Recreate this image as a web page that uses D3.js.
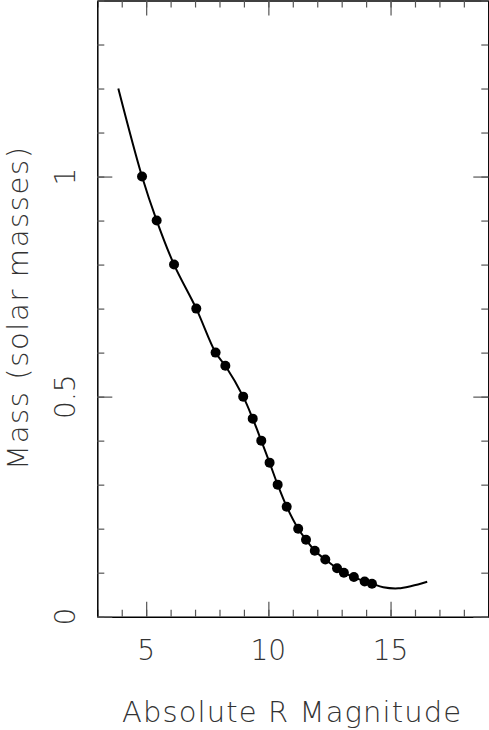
<!DOCTYPE html>
<html>
<head>
<meta charset="utf-8">
<script src="https://cdn.jsdelivr.net/npm/d3@7/dist/d3.min.js"></script>
<style>
    body { margin: 0; background: #fff; }
    svg { display: block; }
    .lbl { font-family: "DejaVu Sans", sans-serif; font-weight: 200; fill: #333; }
    .tick line { stroke: #555; stroke-width: 1.2; }
    .domain { stroke: #000; stroke-width: 1.5; }
</style>
</head>
<body>
<svg width="489" height="730"></svg>
<script>
    // measured points (absolute R magnitude, mass in solar masses)
    var magR = [4.83, 5.43, 6.14, 7.05, 7.84, 8.24, 8.97, 9.36, 9.71, 10.05, 10.38,
                10.75, 11.22, 11.54, 11.90, 12.33, 12.81, 13.09, 13.50, 13.94, 14.24];
    var mass = [1.0, 0.9, 0.8, 0.7, 0.6, 0.57, 0.5, 0.45, 0.4, 0.35, 0.3,
                0.25, 0.2, 0.175, 0.15, 0.13, 0.11, 0.1, 0.09, 0.08, 0.075];

    var fitX = [3.86, 4.83, 5.43, 6.14, 7.05, 7.84, 8.24, 8.97, 9.36, 9.71, 10.05, 10.38,
                10.75, 11.22, 11.54, 11.90, 12.33, 12.81, 13.09, 13.50, 13.94, 14.24,
                14.70, 15.32, 15.86, 16.50];
    var fitY = [1.2, 1.0, 0.9, 0.8, 0.7, 0.6, 0.57, 0.5, 0.45, 0.4, 0.35, 0.3,
                0.25, 0.2, 0.175, 0.15, 0.13, 0.11, 0.1, 0.09, 0.08, 0.075,
                0.067, 0.0645, 0.0698, 0.0795];

    var xMinor = d3.range(3, 20, 1);
    var xMajor = [5, 10, 15];
    var yMinor = d3.range(0, 1.41, 0.1);
    var yMajor = [0, 0.5, 1];
    var yLabels = ["0", "0.5", "1"];

    var svg = d3.select("svg"),
        margin = {top: 0.5, right: 0.7, bottom: 113.3, left: 97.3},
        width = +svg.attr("width") - margin.left - margin.right,
        height = +svg.attr("height") - margin.top - margin.bottom,
        g = svg.append("g").attr("transform", "translate(" + margin.left + "," + margin.top + ")");

    var x = d3.scaleLinear().domain([3, 19]).range([0, width]);
    var y = d3.scaleLinear().domain([0, 1.4]).range([height, 0]);

    function ticks(axis, values, size) {
        return axis.tickValues(values).tickSizeInner(-size).tickSizeOuter(0).tickFormat("");
    }

    // minor + major ticks on all four sides
    [[d3.axisBottom(x), "translate(0," + height + ")", xMinor, xMajor],
     [d3.axisTop(x), null, xMinor, xMajor],
     [d3.axisLeft(y), null, yMinor, yMajor],
     [d3.axisRight(y), "translate(" + width + ",0)", yMinor, yMajor]].forEach(function(a) {
        var minor = g.append("g").call(ticks(a[0], a[2], 7));
        var major = g.append("g").call(ticks(a[0].copy ? a[0] : a[0], a[3], 15));
        major.select(".domain").remove();
        if (a[1]) { minor.attr("transform", a[1]); major.attr("transform", a[1]); }
    });

    // x tick labels
    g.selectAll(".xlab").data(xMajor).enter().append("text")
        .attr("class", "lbl")
        .attr("x", function(d) { return x(d); })
        .attr("y", height + 43)
        .attr("text-anchor", "middle")
        .attr("font-size", 28)
        .text(function(d) { return d; });

    // y tick labels, rotated
    g.selectAll(".ylab").data(yMajor).enter().append("text")
        .attr("class", "lbl")
        .attr("transform", function(d) { return "translate(-22," + y(d) + ") rotate(-90)"; })
        .attr("text-anchor", "middle")
        .attr("font-size", 28)
        .text(function(d, i) { return yLabels[i]; });

    svg.append("text")
        .attr("class", "lbl")
        .attr("x", 122).attr("y", 722)
        .attr("font-size", 29)
        .attr("textLength", 339).attr("lengthAdjust", "spacing")
        .text("Absolute R Magnitude");

    svg.append("text")
        .attr("class", "lbl")
        .attr("transform", "translate(28,470) rotate(-90)")
        .attr("font-size", 29)
        .attr("textLength", 323).attr("lengthAdjust", "spacing")
        .text("Mass (solar masses)");

    var line = d3.line()
        .x(function(d, i) { return x(fitX[i]); })
        .y(function(d) { return y(d); })
        .curve(d3.curveCatmullRom);

    g.append("path")
        .datum(fitY)
        .attr("fill", "none")
        .attr("stroke", "#000")
        .attr("stroke-width", 2)
        .attr("d", line);

    g.selectAll(".dot").data(mass).enter().append("circle")
        .attr("cx", function(d, i) { return x(magR[i]); })
        .attr("cy", function(d) { return y(d); })
        .attr("r", 5)
        .attr("fill", "#000");
</script>
</body>
</html>
